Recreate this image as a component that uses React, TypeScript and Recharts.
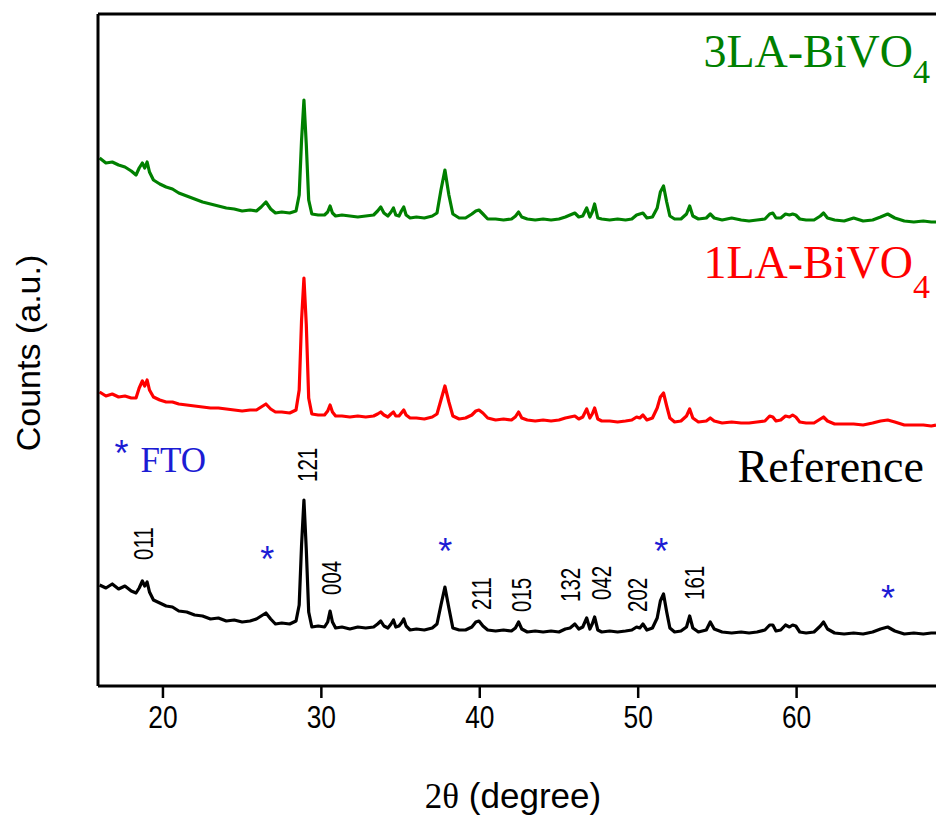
import React from 'react';
import { LineChart, Line, XAxis, YAxis, ReferenceDot, ReferenceLine, Label } from 'recharts';

// 2-theta grid (degree), denser around the diffraction peaks
const twoTheta = [
  16.0, 16.4, 16.8, 17.2, 17.6, 18.0, 18.3, 18.5, 18.7, 18.85,
  19.0, 19.15, 19.4, 19.8, 20.2, 20.6, 21.0, 21.5, 22.0, 22.5,
  23.0, 23.5, 24.0, 24.5, 25.0, 25.5, 25.9, 26.2, 26.5, 26.8,
  27.1, 27.5, 28.0, 28.4, 28.6, 28.75, 28.9, 29.05, 29.2, 29.4,
  29.8, 30.2, 30.4, 30.55, 30.7, 30.9, 31.3, 31.8, 32.3, 32.8,
  33.3, 33.55, 33.75, 33.95, 34.2, 34.4, 34.55, 34.7, 34.9, 35.05,
  35.2, 35.35, 35.6, 36.0, 36.5, 37.0, 37.3, 37.55, 37.8, 38.05,
  38.3, 38.7, 39.1, 39.5, 39.75, 39.95, 40.2, 40.5, 41.0, 41.5,
  42.0, 42.25, 42.45, 42.65, 43.0, 43.5, 44.0, 44.5, 45.0, 45.4,
  45.7, 46.0, 46.25, 46.5, 46.75, 46.95, 47.1, 47.25, 47.45, 47.7,
  48.2, 48.7, 49.2, 49.6, 49.9, 50.1, 50.3, 50.55, 50.9, 51.2,
  51.4, 51.6, 51.8, 52.0, 52.3, 52.7, 53.05, 53.25, 53.45, 53.8,
  54.3, 54.55, 54.8, 55.3, 55.9, 56.5, 57.0, 57.5, 58.0, 58.3,
  58.5, 58.7, 59.0, 59.3, 59.55, 59.75, 59.95, 60.2, 60.6, 61.1,
  61.5, 61.7, 61.95, 62.4, 63.0, 63.6, 64.2, 64.8, 65.3, 65.75,
  66.2, 66.8, 67.4, 68.0, 68.5, 68.8,
];

// stacked counts (a.u.), each pattern already offset
const refCounts = [
  101, 98, 102, 97, 100, 95, 93, 98, 105, 100,
  104, 94, 86, 83, 80, 79, 75, 74, 71, 70,
  67, 68, 65, 66, 64, 65, 67, 70, 73, 67,
  62, 63, 62, 65, 81, 141, 186, 136, 74, 59,
  60, 59, 64, 75, 64, 58, 59, 57, 59, 58,
  59, 62, 65, 60, 58, 62, 66, 59, 60, 63,
  67, 60, 56, 57, 56, 58, 62, 81, 99, 78,
  58, 56, 56, 59, 64, 65, 60, 56, 55, 56,
  55, 58, 64, 57, 54, 55, 54, 55, 54, 57,
  58, 62, 57, 59, 68, 57, 62, 69, 56, 54,
  55, 54, 55, 56, 59, 58, 62, 56, 58, 68,
  85, 92, 74, 58, 54, 55, 59, 70, 58, 54,
  56, 64, 57, 54, 53, 54, 53, 54, 56, 61,
  61, 55, 56, 61, 59, 61, 60, 54, 53, 54,
  60, 64, 57, 53, 52, 53, 52, 54, 57, 59,
  55, 52, 53, 52, 53, 53,
];

const la1Counts = [
  294, 290, 292, 289, 290, 288, 288, 298, 305, 300,
  306, 296, 289, 286, 284, 284, 282, 281, 280, 279,
  278, 278, 277, 276, 275, 276, 276, 279, 282, 277,
  274, 274, 273, 276, 296, 366, 408, 361, 288, 272,
  271, 271, 275, 281, 274, 270, 270, 269, 270, 269,
  270, 272, 274, 271, 269, 272, 274, 270, 270, 273,
  276, 271, 268, 268, 267, 269, 272, 286, 300, 284,
  270, 267, 268, 271, 275, 276, 273, 268, 266, 267,
  266, 269, 274, 268, 266, 265, 266, 265, 266, 268,
  269, 270, 267, 269, 277, 268, 272, 278, 267, 265,
  265, 264, 265, 266, 269, 268, 271, 266, 268, 278,
  289, 293, 280, 268, 264, 265, 270, 277, 268, 264,
  265, 268, 265, 263, 264, 263, 263, 264, 265, 270,
  269, 265, 266, 270, 269, 271, 269, 264, 263, 263,
  267, 269, 265, 262, 262, 262, 261, 263, 265, 266,
  264, 261, 261, 261, 260, 261,
];

const la3Counts = [
  528, 523, 524, 521, 519, 515, 511, 518, 523, 518,
  524, 514, 506, 502, 499, 497, 493, 490, 487, 484,
  482, 480, 478, 477, 475, 476, 475, 479, 484, 477,
  473, 474, 473, 475, 491, 546, 586, 541, 486, 472,
  471, 471, 474, 480, 473, 470, 471, 470, 469, 470,
  471, 475, 479, 473, 470, 474, 478, 471, 470, 475,
  479, 471, 468, 469, 468, 470, 473, 496, 516, 491,
  472, 468, 468, 472, 475, 476, 472, 467, 467, 466,
  467, 470, 474, 469, 467, 466, 467, 466, 467, 469,
  471, 473, 469, 470, 478, 469, 474, 482, 468, 467,
  466, 467, 466, 467, 471, 472, 473, 468, 469, 478,
  494, 500, 484, 470, 467, 467, 472, 480, 470, 467,
  468, 472, 468, 466, 468, 466, 465, 466, 467, 472,
  473, 468, 468, 472, 471, 472, 471, 467, 466, 466,
  470, 473, 468, 466, 465, 468, 465, 466, 469, 472,
  468, 465, 464, 465, 464, 464,
];

const xTicks = [20, 30, 40, 50, 60];

// Miller indices of the reference pattern and where their labels sit
const hklNames = ['011', '121', '004', '211', '015', '132', '042', '202', '161'];
const hklTheta = [18.77, 29.12, 30.63, 40.09, 42.62, 45.71, 47.67, 49.94, 53.53];
const hklLevel = [126, 204, 91, 76, 74, 84, 86, 74, 86];

// FTO substrate reflections (marked with *)
const ftoTheta = [26.59, 37.82, 51.45, 65.77];
const ftoLevel = [134, 142, 142, 95];

const SANS = '"Liberation Sans", Arial, sans-serif';
const SERIF = '"Liberation Serif", "Times New Roman", serif';
const BLUE = '#1c1cd4';

const rows = twoTheta.map((t, i) => ({
  t,
  ref: refCounts[i],
  la1: la1Counts[i],
  la3: la3Counts[i],
}));

const Star = ({ cx, cy }: any) => (
  <text x={cx} y={cy + 20} textAnchor="middle" fontFamily={SANS} fontSize={36} fill={BLUE}>
    *
  </text>
);

const HklText = ({ cx, cy, text }: any) => {
  const fs = 27;
  return (
    <text
      transform={`translate(${cx + fs * 0.36},${cy}) rotate(-90) scale(0.76,1)`}
      fontFamily={SANS}
      fontSize={fs}
      fill="#000"
    >
      {text}
    </text>
  );
};

const SampleName = ({ cx, cy, name, color, subDy }: any) => (
  <text x={cx} y={cy} textAnchor="end" fontFamily={SERIF} fontSize={46} fill={color}>
    {name}
    <tspan fontSize={34} dy={subDy}>4</tspan>
  </text>
);

const TickText = ({ x, y, payload }: any) => (
  <text
    transform={`translate(${x},${y + 28}) scale(0.85,1)`}
    textAnchor="middle"
    fontFamily={SANS}
    fontSize={31}
    fill="#000"
  >
    {payload.value}
  </text>
);

const App = () => {
  return (
    <div style={{ position: 'absolute', left: 0, top: 0, width: 936, height: 819, overflow: 'hidden' }}>
      <LineChart width={936} height={819} data={rows} margin={{ top: 14, right: 0, bottom: 73, left: 38 }}>
        <XAxis
          dataKey="t"
          type="number"
          domain={[15.9, 68.8]}
          allowDataOverflow
          ticks={xTicks}
          tickSize={12}
          axisLine={{ stroke: '#000', strokeWidth: 3 }}
          tickLine={{ stroke: '#000', strokeWidth: 2.5 }}
          tick={<TickText />}
          height={60}
        >
          <Label
            content={({ viewBox }: any) => (
              <text
                x={viewBox.x + viewBox.width / 2 - 4}
                y={viewBox.y + 122}
                textAnchor="middle"
                fontSize={35}
                fill="#000"
              >
                <tspan fontFamily={SERIF}>2θ</tspan>
                <tspan fontFamily={SANS}> (degree)</tspan>
              </text>
            )}
          />
        </XAxis>
        <YAxis
          type="number"
          domain={[0, 672]}
          allowDataOverflow
          width={60}
          tick={false}
          tickLine={false}
          axisLine={{ stroke: '#000', strokeWidth: 3 }}
        >
          <Label
            content={({ viewBox }: any) => (
              <text
                transform={`translate(${viewBox.x + 2},${viewBox.y + viewBox.height / 2 + 3}) rotate(-90)`}
                textAnchor="middle"
                fontFamily={SANS}
                fontSize={34}
                fill="#000"
              >
                Counts (a.u.)
              </text>
            )}
          />
        </YAxis>
        <ReferenceLine y={672} stroke="#000" strokeWidth={3} ifOverflow="visible" />

        <Line type="linear" dataKey="la3" stroke="#008000" strokeWidth={3.2} strokeLinejoin="round" dot={false} isAnimationActive={false} />
        <Line type="linear" dataKey="la1" stroke="#ff0000" strokeWidth={3.2} strokeLinejoin="round" dot={false} isAnimationActive={false} />
        <Line type="linear" dataKey="ref" stroke="#000000" strokeWidth={3.2} strokeLinejoin="round" dot={false} isAnimationActive={false} />

        {hklNames.map((h, i) => (
          <ReferenceDot
            key={h}
            x={hklTheta[i]}
            y={hklLevel[i]}
            r={0}
            ifOverflow="visible"
            shape={(p: any) => <HklText cx={p.cx} cy={p.cy} text={h} />}
          />
        ))}
        {ftoTheta.map((t, i) => (
          <ReferenceDot
            key={`fto-${t}`}
            x={t}
            y={ftoLevel[i]}
            r={0}
            ifOverflow="visible"
            shape={(p: any) => <Star cx={p.cx} cy={p.cy} />}
          />
        ))}

        {/* legend for the substrate marks */}
        <ReferenceDot x={17.38} y={240} r={0} ifOverflow="visible" shape={(p: any) => <Star cx={p.cx} cy={p.cy} />} />
        <ReferenceDot
          x={18.58}
          y={214}
          r={0}
          ifOverflow="visible"
          shape={(p: any) => (
            <text x={p.cx} y={p.cy} fontFamily={SERIF} fontSize={35} fill={BLUE}>
              FTO
            </text>
          )}
        />

        {/* sample names */}
        <ReferenceDot
          x={68.42}
          y={619}
          r={0}
          ifOverflow="visible"
          shape={(p: any) => <SampleName cx={p.cx} cy={p.cy} name="3LA-BiVO" color="#008000" subDy={16} />}
        />
        <ReferenceDot
          x={68.42}
          y={408}
          r={0}
          ifOverflow="visible"
          shape={(p: any) => <SampleName cx={p.cx} cy={p.cy} name="1LA-BiVO" color="#ff0000" subDy={20} />}
        />
        <ReferenceDot
          x={68.04}
          y={204}
          r={0}
          ifOverflow="visible"
          shape={(p: any) => (
            <text x={p.cx} y={p.cy} textAnchor="end" fontFamily={SERIF} fontSize={46} fill="#000">
              Reference
            </text>
          )}
        />
      </LineChart>
    </div>
  );
};

export default App;
